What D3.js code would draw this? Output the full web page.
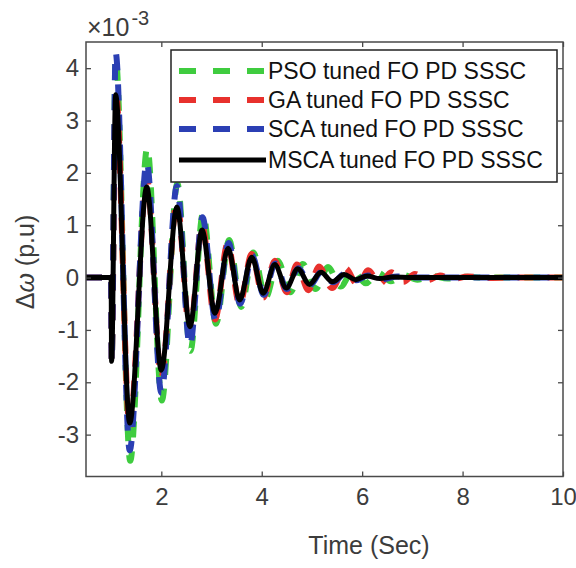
<!DOCTYPE html>
<html>
<head>
<meta charset="utf-8">
<script src="https://cdn.jsdelivr.net/npm/d3@7"></script>
<style>
  body { margin: 0; background: #fff; }
  svg { font-family: "Liberation Sans", Arial, sans-serif; }
</style>
</head>
<body>
<svg id="chart" width="576" height="568"></svg>
<script>
// extrema: [time (s), dw x 1e-3 p.u]
const psoData = [[0.5,0],[1.0,0],[1.01,-1.6],[1.09,4.2],[1.38,-3.5],[1.72,2.48],[2.01,-2.35],[2.32,1.8],[2.58,-1.4],[2.83,1.23],[3.09,-0.88],[3.35,0.72],[3.59,-0.56],[3.83,0.48],[4.08,-0.38],[4.32,0.32],[4.57,-0.28],[4.82,0.26],[5.07,-0.22],[5.32,0.2],[5.57,-0.17],[5.82,0.14],[6.07,-0.11],[6.32,0.09],[6.57,-0.07],[6.82,0.05],[7.1,-0.04],[7.4,0.03],[7.7,-0.02],[8.0,0.015],[8.5,0],[10,0]];
const gaData = [[0.5,0],[1.0,0],[1.01,-1.6],[1.09,3.6],[1.37,-2.85],[1.71,1.9],[2.0,-1.9],[2.31,1.45],[2.57,-1.05],[2.81,1.0],[3.07,-0.8],[3.32,0.65],[3.56,-0.52],[3.8,0.45],[4.03,-0.38],[4.26,0.32],[4.5,-0.28],[4.7,0.25],[4.93,-0.24],[5.14,0.21],[5.4,-0.2],[5.66,0.18],[5.92,-0.15],[6.12,0.14],[6.35,-0.12],[6.58,0.1],[6.82,-0.08],[7.05,0.07],[7.3,-0.05],[7.55,0.04],[7.8,-0.03],[8.1,0.02],[8.5,-0.01],[9,0],[10,0]];
const scaData = [[0.5,0],[1.0,0],[1.01,-1.6],[1.09,4.3],[1.37,-3.3],[1.71,2.2],[2.0,-2.2],[2.31,1.75],[2.57,-1.3],[2.82,1.15],[3.08,-0.82],[3.34,0.66],[3.57,-0.5],[3.81,0.42],[4.04,-0.33],[4.27,0.27],[4.5,-0.22],[4.73,0.18],[4.96,-0.14],[5.19,0.11],[5.42,-0.09],[5.65,0.07],[5.88,-0.05],[6.11,0.04],[6.4,-0.03],[6.7,0.02],[7.1,0],[10,0]];
const mscaData = [[0.5,0],[1.0,0],[1.01,-1.6],[1.09,3.49],[1.37,-2.78],[1.71,1.73],[2.0,-1.77],[2.31,1.35],[2.57,-0.94],[2.81,0.91],[3.07,-0.68],[3.33,0.56],[3.56,-0.43],[3.8,0.39],[4.03,-0.3],[4.26,0.25],[4.49,-0.2],[4.72,0.17],[4.95,-0.13],[5.18,0.1],[5.41,-0.08],[5.64,0.06],[5.87,-0.04],[6.1,0.03],[6.35,-0.02],[6.6,0.01],[7,0],[10,0]];

const seriesNames = ["PSO tuned FO PD SSSC", "GA tuned FO PD SSSC", "SCA tuned FO PD SSSC", "MSCA tuned FO PD SSSC"];
const seriesColors = ["#3fcc3f", "#e8312d", "#2b3fb4", "#000000"];
const xTicks = [2, 4, 6, 8, 10];
const yTicks = [-3, -2, -1, 0, 1, 2, 3, 4];

const plotLeft = 86, plotRight = 563, plotTop = 42, plotBottom = 476.5;

const svg = d3.select("#chart");

const x = d3.scaleLinear().domain([0.5, 10]).range([plotLeft, plotRight]);
const y = d3.scaleLinear().domain([-3.8, 4.5]).range([plotBottom, plotTop]);

svg.append("clipPath").attr("id", "clip")
  .append("rect")
  .attr("x", plotLeft).attr("y", plotTop)
  .attr("width", plotRight - plotLeft).attr("height", plotBottom - plotTop);

// curves, same order as matlab plot
const line = d3.line()
  .x(d => x(d[0]))
  .y(d => y(d[1]))
  .curve(d3.curveMonotoneX);

const allData = [psoData, gaData, scaData, mscaData];
const plot = svg.append("g").attr("clip-path", "url(#clip)");
allData.forEach((data, i) => {
  const dashed = i < 3;
  plot.append("path")
    .datum(data)
    .attr("fill", "none")
    .attr("stroke", seriesColors[i])
    .attr("stroke-width", dashed ? 6 : 5)
    .attr("stroke-dasharray", dashed ? "16,14" : null)
    .attr("stroke-linejoin", "round")
    .attr("d", line);
});

// axes (ticks inward, box on)
const fmt = d => String(d);
const axisColor = "#4a4a4a";
const textColor = "#3c3c3c";

const gx = svg.append("g")
  .attr("transform", `translate(0,${plotBottom})`)
  .call(d3.axisBottom(x).tickValues(xTicks).tickFormat(fmt).tickSizeInner(-5).tickSizeOuter(0).tickPadding(11));
const gxTop = svg.append("g")
  .attr("transform", `translate(0,${plotTop})`)
  .call(d3.axisTop(x).tickValues(xTicks).tickFormat("").tickSizeInner(-5).tickSizeOuter(0));
const gy = svg.append("g")
  .attr("transform", `translate(${plotLeft},0)`)
  .call(d3.axisLeft(y).tickValues(yTicks).tickFormat(fmt).tickSizeInner(-5).tickSizeOuter(0).tickPadding(7));
const gyRight = svg.append("g")
  .attr("transform", `translate(${plotRight},0)`)
  .call(d3.axisRight(y).tickValues(yTicks).tickFormat("").tickSizeInner(-5).tickSizeOuter(0));

[gx, gxTop, gy, gyRight].forEach(g => {
  g.select(".domain").remove();
  g.selectAll("line").attr("stroke", axisColor).attr("stroke-width", 1.3);
  g.selectAll("text")
    .attr("font-size", 24)
    .attr("font-family", "Liberation Sans, Arial, sans-serif")
    .attr("fill", textColor);
});

svg.append("rect")
  .attr("x", plotLeft).attr("y", plotTop)
  .attr("width", plotRight - plotLeft).attr("height", plotBottom - plotTop)
  .attr("fill", "none")
  .attr("stroke", axisColor)
  .attr("stroke-width", 1.5);

// exponent label
const expo = svg.append("text")
  .attr("x", 87).attr("y", 36)
  .attr("fill", textColor)
  .attr("font-size", 25);
expo.append("tspan").text("\u00d710");
expo.append("tspan").attr("font-size", 20).attr("dx", 2).attr("dy", -11).text("-3");

// axis labels
svg.append("text")
  .attr("x", 369).attr("y", 554)
  .attr("text-anchor", "middle")
  .attr("font-size", 25)
  .attr("fill", textColor)
  .text("Time (Sec)");

const yl = svg.append("text")
  .attr("transform", "translate(34,262) rotate(-90)")
  .attr("text-anchor", "middle")
  .attr("font-size", 25)
  .attr("fill", textColor);
yl.append("tspan").text("\u0394");
yl.append("tspan").attr("font-style", "italic").text("\u03c9");
yl.append("tspan").text(" (p.u)");

// legend
const legend = svg.append("g");
legend.append("rect")
  .attr("x", 171).attr("y", 50)
  .attr("width", 386).attr("height", 132)
  .attr("fill", "#fff")
  .attr("stroke", "#222")
  .attr("stroke-width", 1.5);

const rowY = [71, 100, 129, 160];
seriesNames.forEach((name, i) => {
  const dashed = i < 3;
  legend.append("line")
    .attr("x1", 179).attr("x2", 266)
    .attr("y1", rowY[i]).attr("y2", rowY[i])
    .attr("stroke", seriesColors[i])
    .attr("stroke-width", dashed ? 6 : 5)
    .attr("stroke-dasharray", dashed ? "17,17" : null);
  legend.append("text")
    .attr("x", 268).attr("y", rowY[i])
    .attr("dy", "0.35em")
    .attr("font-size", 23)
    .attr("fill", "#111")
    .text(name);
});
</script>
</body>
</html>
